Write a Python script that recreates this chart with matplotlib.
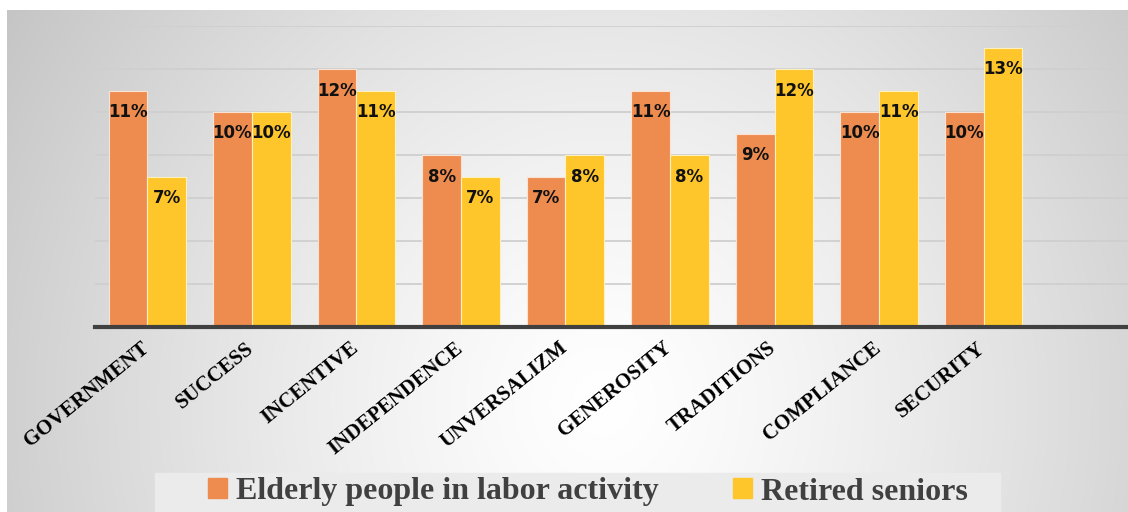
import numpy as np
import matplotlib
matplotlib.use('Agg')
import matplotlib.pyplot as plt
import matplotlib.transforms as mtransforms
from matplotlib.patches import Rectangle, Patch

categories = ['GOVERNMENT', 'SUCCESS', 'INCENTIVE', 'INDEPENDENCE', 'UNVERSALIZM',
              'GENEROSITY', 'TRADITIONS', 'COMPLIANCE', 'SECURITY']
elderly = [11, 10, 12, 8, 7, 11, 9, 10, 10]
retired = [7, 10, 11, 7, 8, 8, 12, 11, 13]
series_names = ['Elderly people in labor activity', 'Retired seniors']

c_orange = '#EE8C50'
c_yellow = '#FEC62A'

fig = plt.figure(figsize=(11.28, 5.12), dpi=100)
W, H = 1128, 512

# background radial gradient panel
bg = fig.add_axes([0, 0, 1, 1], zorder=-10)
bg.set_xlim(0, W)
bg.set_ylim(H, 0)
bg.axis('off')
yy, xx = np.mgrid[0:H, 0:W]
d = np.sqrt(((xx - 600) / 560.0) ** 2 + ((yy - 400) / 600.0) ** 2)
shade = np.clip(1.0 - 0.168 * d ** 1.3, 0.77, 1.0)
img = np.dstack([shade, shade, shade])
bg.imshow(img, extent=[7, W, H, 10], aspect='auto', interpolation='bilinear')
bg.add_patch(Rectangle((155, 473), 845, 40, color='#ebebeb', zorder=2))

ax = fig.add_axes([95 / W, 1 - 327 / H, 1 - 95 / W, (327 - 26) / H])
ax.patch.set_alpha(0)
x = np.arange(len(categories))
w = 0.37
b1 = ax.bar(x - w / 2, elderly, w, color=c_orange, edgecolor='#fbe3d3', linewidth=0.8, zorder=3)
b2 = ax.bar(x + w / 2, retired, w, color=c_yellow, edgecolor='#fff0c0', linewidth=0.8, zorder=3)

for bars, vals in [(b1, elderly), (b2, retired)]:
    for rect, v in zip(bars, vals):
        ax.text(rect.get_x() + rect.get_width() / 2, v - 1.0, f'{v}%', ha='center', va='center',
                fontsize=12, fontweight='bold', color='#111111', zorder=5)

ax.set_xlim(-0.5, 9.38)
ax.set_ylim(0, 14)
ax.set_yticks(np.arange(0, 15, 2))
ax.yaxis.grid(True, color='#cfcfcf', linewidth=1.3, zorder=0)
ax.tick_params(axis='y', left=False, labelleft=False)
ax.tick_params(axis='x', length=0, pad=8)
for s in ['left', 'right', 'top']:
    ax.spines[s].set_visible(False)
ax.spines['bottom'].set_color('#404040')
ax.spines['bottom'].set_linewidth(3)
ax.spines['bottom'].set_zorder(4)
ax.set_xticks(x)
ax.set_xticklabels(categories, rotation=39, ha='right', rotation_mode='anchor',
                   fontfamily='Liberation Serif', fontweight='bold', fontsize=15)
shift = mtransforms.ScaledTranslation(-7 / 100, 0, fig.dpi_scale_trans)
for lab in ax.get_xticklabels():
    lab.set_transform(lab.get_transform() + shift)

handles = [Patch(color=c_orange), Patch(color=c_yellow)]
fig.legend(handles, series_names, loc='center', bbox_to_anchor=(588 / W, 1 - 492 / H), ncol=2,
           frameon=False, handlelength=0.6, handleheight=0.6, handletextpad=0.3, columnspacing=2.3,
           prop={'family': 'Liberation Serif', 'weight': 'bold', 'size': 23}, labelcolor='#404040')

fig.savefig('out.png', dpi=100)
